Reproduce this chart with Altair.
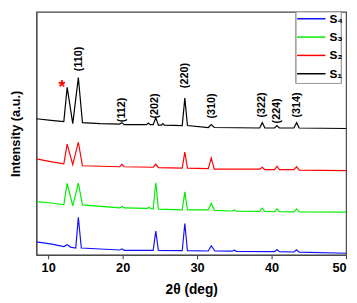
import altair as alt
import pandas as pd

# ---- data (2-theta in deg, intensity offset in a.u.) ----
s1_x = [8.42, 10.7, 12.1, 12.55, 13.3, 14.05, 14.6, 17.0, 19.6, 19.9, 20.2, 23.2, 23.45, 23.7,
        24.1, 24.45, 24.8, 25.2, 25.4, 25.6, 28.0, 28.35, 28.7, 31.5, 31.9, 32.3, 38.4, 38.75,
        39.1, 40.4, 40.72, 41.05, 43.0, 43.36, 43.7, 50.0]
s1_y = [139, 137, 136, 171, 134, 181, 135, 134, 133.5, 135, 133, 133, 134.5, 133,
        133, 140, 132.5, 132.5, 134, 132.5, 132, 160, 132, 130, 133, 130, 129.5, 135,
        129.5, 129.5, 132, 129.5, 129.5, 135, 129.5, 129]

s2_x = [8.42, 10.5, 12.1, 12.55, 13.3, 14.05, 14.6, 19.6, 19.9, 20.2, 24.1, 24.45, 24.8,
        28.0, 28.35, 28.7, 31.5, 31.9, 32.3, 38.4, 38.75, 39.1, 40.4, 40.72, 41.05,
        43.0, 43.36, 43.7, 50.0]
s2_y = [98, 95, 93, 113, 92, 115, 91, 90, 92.5, 90, 89.5, 92.5, 89,
        88.5, 105, 88.5, 88, 99, 87.5, 87.5, 89.5, 87, 87, 90.5, 87,
        87, 90, 86.5, 86]

s3_x = [8.42, 10.5, 12.1, 12.55, 13.3, 14.05, 14.6, 19.6, 19.9, 20.2, 23.3, 23.55, 23.8,
        24.1, 24.45, 24.8, 28.0, 28.35, 28.7, 31.5, 31.9, 32.3, 34.7, 35.0, 35.3,
        38.4, 38.75, 39.1, 40.4, 40.72, 41.05, 43.0, 43.36, 43.7, 50.0]
s3_y = [54.3, 53, 51, 73, 50, 73.3, 51, 48, 49.5, 48, 47.5, 48.5, 47.3,
        47, 73.7, 46.7, 46, 64.3, 46, 46, 52.7, 45.5, 44.8, 46, 44.6,
        44.5, 47.7, 44.3, 44.2, 47, 44.2, 44, 47, 44, 43.7]

s4_x = [8.42, 10.5, 12.1, 12.55, 13.0, 13.7, 14.05, 14.45, 19.6, 19.9, 20.2, 24.1, 24.45,
        24.8, 28.0, 28.35, 28.7, 31.5, 31.9, 32.4, 34.7, 35.0, 35.3, 40.4, 40.72, 41.05,
        43.0, 43.36, 43.7, 50.0]
s4_y = [13.3, 11, 8.5, 10.5, 8, 7, 38.3, 7, 5, 6.2, 4.7, 4.7, 24.3,
        4.5, 4.3, 32, 4.3, 4, 9.3, 4, 3.8, 4.8, 3.6, 3.3, 5.5, 3.3,
        3, 5.3, 2.8, 1.7]

series = ["S\u2084", "S\u2083", "S\u2082", "S\u2081"]
colors = ["#1010ff", "#00ee00", "#ff0000", "#000000"]

hkl = ["(110)", "(112)", "(202)", "(220)", "(310)", "(322)", "(224)", "(314)"]
hkl_x = [14.08, 19.87, 24.34, 28.42, 31.97, 38.68, 40.79, 43.42]
hkl_y = [200, 148, 152, 183, 152, 153, 147, 153]

star_x = [11.84]
star_y = [170]

x_ticks = [10 + 2.5 * i for i in range(17)]

# ---- tables ----
rows = []
for name, xs, ys in [("S\u2081", s1_x, s1_y), ("S\u2082", s2_x, s2_y),
                     ("S\u2083", s3_x, s3_y), ("S\u2084", s4_x, s4_y)]:
    for i, (a, b) in enumerate(zip(xs, ys)):
        rows.append({"deg": a, "inten": b, "sample": name, "order": i})
lines_df = pd.DataFrame(rows)
hkl_df = pd.DataFrame({"deg": hkl_x, "inten": hkl_y, "label": hkl})
star_df = pd.DataFrame({"deg": star_x, "inten": star_y, "label": ["*"]})
leg_df = pd.DataFrame({"sample": series, "row": list(range(len(series)))})

FONT = "Liberation Sans"

xscale = alt.Scale(domain=[8.42, 50], nice=False, zero=False)
yscale = alt.Scale(domain=[0, 248], nice=False, zero=False)
cscale = alt.Scale(domain=series, range=colors)

lines = alt.Chart(lines_df).mark_line(strokeWidth=1.2).encode(
    x=alt.X("deg:Q", scale=xscale,
            axis=alt.Axis(title="2\u03b8 (deg)", values=x_ticks,
                          labelExpr="datum.value % 5 == 0 ? datum.label : ''",
                          tickSize=4, tickColor="#333", domainColor="#444",
                          labelFont=FONT, labelFontWeight="bold", labelFontSize=13,
                          labelColor="#000", titleFont=FONT, titleFontWeight="bold",
                          titleFontSize=14, titleColor="#000", titlePadding=8,
                          grid=False, labelPadding=3)),
    y=alt.Y("inten:Q", scale=yscale,
            axis=alt.Axis(title="Intensity (a.u.)", ticks=False, labels=False,
                          grid=False, domainColor="#444", titleFont=FONT,
                          titleFontWeight="bold", titleFontSize=13, titleColor="#000",
                          titlePadding=14)),
    color=alt.Color("sample:N", scale=cscale, legend=None),
    order="order:Q",
    detail="sample:N",
)

labels = alt.Chart(hkl_df).mark_text(angle=270, align="center", baseline="middle",
                                     font=FONT, fontWeight="bold", fontSize=11,
                                     color="#000").encode(
    x=alt.X("deg:Q", scale=xscale), y=alt.Y("inten:Q", scale=yscale), text="label:N")

star = alt.Chart(star_df).mark_text(align="center", baseline="middle", font=FONT,
                                    fontWeight="bold", fontSize=18,
                                    color="#ff0000").encode(
    x=alt.X("deg:Q", scale=xscale), y=alt.Y("inten:Q", scale=yscale), text="label:N")

# legend box (drawn in the plot's pixel space)
leg_box = alt.Chart(leg_df).mark_rect(fill="white", stroke="#999", strokeWidth=1).encode(
    x=alt.value(265), x2=alt.value(311), y=alt.value(0), y2=alt.value(73))
leg_y = alt.Y("py:Q", scale=None)
leg_base = alt.Chart(leg_df).transform_calculate(py="7 + datum.row * 18.7")
leg_lines = leg_base.mark_rule(strokeWidth=1.5).encode(
    x=alt.value(266), x2=alt.value(295), y=leg_y,
    color=alt.Color("sample:N", scale=cscale, legend=None))
leg_text = leg_base.mark_text(align="left", baseline="middle", font=FONT,
                              fontWeight="bold", fontSize=12, color="#000").encode(
    x=alt.value(299), y=leg_y, text="sample:N")

chart = alt.layer(lines, labels, star, leg_box, leg_lines, leg_text).properties(
    width=316, height=248, padding={"left": 2, "top": 0, "right": 0, "bottom": 0}
).configure_view(stroke="#444", strokeWidth=1.2)

chart.save("out.html", embed_options={"renderer": "svg", "actions": False})
